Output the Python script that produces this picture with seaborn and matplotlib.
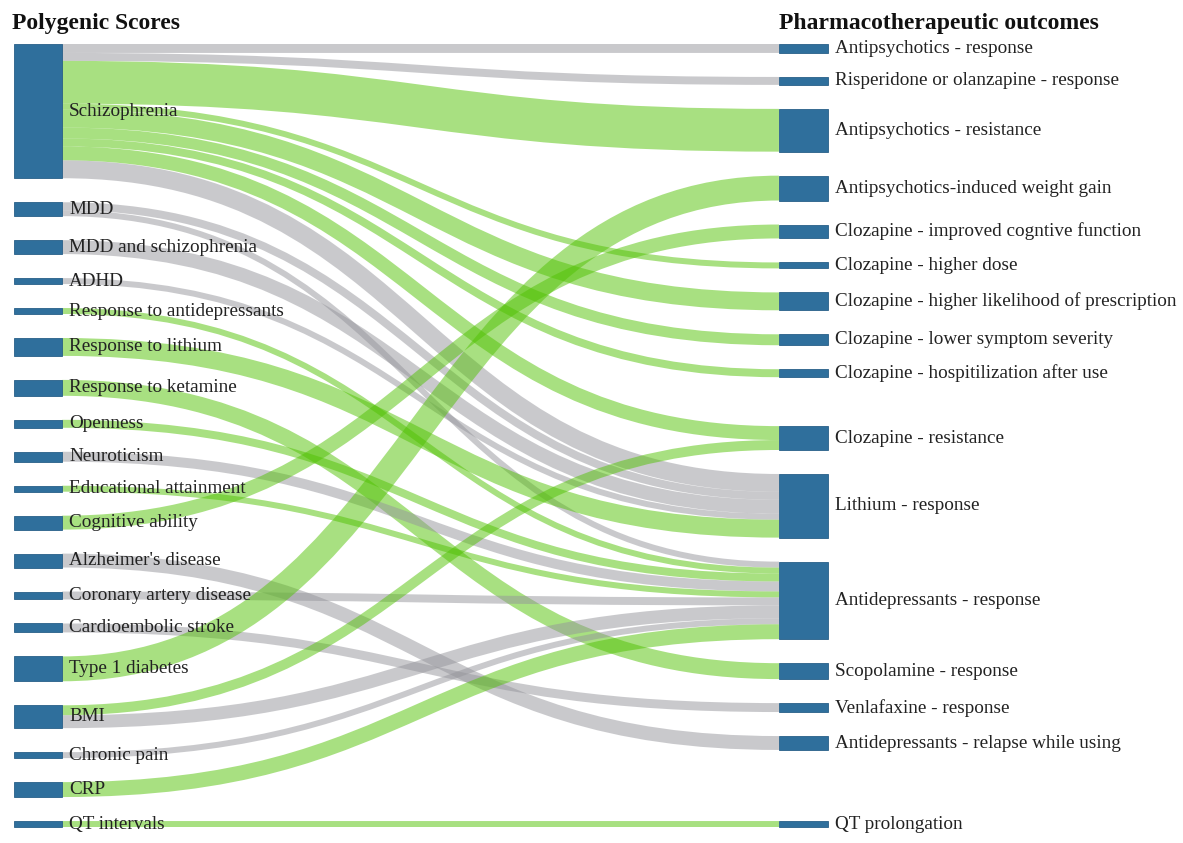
import matplotlib
matplotlib.use("Agg")
import matplotlib.pyplot as plt
from matplotlib.path import Path
from matplotlib.patches import PathPatch, Rectangle
import seaborn as sns

sns.set_theme(style="white")
plt.rcParams['font.family'] = ['Liberation Serif', 'DejaVu Serif']

# left column: polygenic scores
scores = ["Schizophrenia", "MDD", "MDD and schizophrenia", "ADHD",
          "Response to antidepressants", "Response to lithium",
          "Response to ketamine", "Openness", "Neuroticism",
          "Educational attainment", "Cognitive ability", "Alzheimer's disease",
          "Coronary artery disease", "Cardioembolic stroke", "Type 1 diabetes",
          "BMI", "Chronic pain", "CRP", "QT intervals"]

# right column: pharmacotherapeutic outcomes
outcomes = ["Antipsychotics - response", "Risperidone or olanzapine - response",
            "Antipsychotics - resistance", "Antipsychotics-induced weight gain",
            "Clozapine - improved cogntive function", "Clozapine - higher dose",
            "Clozapine - higher likelihood of prescription",
            "Clozapine - lower symptom severity",
            "Clozapine - hospitilization after use", "Clozapine - resistance",
            "Lithium - response", "Antidepressants - response",
            "Scopolamine - response", "Venlafaxine - response",
            "Antidepressants - relapse while using", "QT prolongation"]

# links: source, target, weight, significant (1 = green)
link_src = ["Schizophrenia"] * 9 + ["MDD", "MDD", "MDD and schizophrenia", "ADHD",
            "Response to antidepressants", "Response to lithium",
            "Response to ketamine", "Openness", "Neuroticism",
            "Educational attainment", "Cognitive ability", "Alzheimer's disease",
            "Coronary artery disease", "Cardioembolic stroke", "Type 1 diabetes",
            "BMI", "BMI", "Chronic pain", "CRP", "QT intervals"]
link_tgt = ["Antipsychotics - response", "Risperidone or olanzapine - response",
            "Antipsychotics - resistance", "Clozapine - higher dose",
            "Clozapine - higher likelihood of prescription",
            "Clozapine - lower symptom severity",
            "Clozapine - hospitilization after use", "Clozapine - resistance",
            "Lithium - response",
            "Lithium - response", "Antidepressants - response",
            "Lithium - response", "Lithium - response",
            "Antidepressants - response", "Lithium - response",
            "Scopolamine - response", "Antidepressants - response",
            "Antidepressants - response", "Antidepressants - response",
            "Clozapine - improved cogntive function",
            "Antidepressants - relapse while using",
            "Antidepressants - response", "Venlafaxine - response",
            "Antipsychotics-induced weight gain", "Clozapine - resistance",
            "Antidepressants - response", "Antidepressants - response",
            "Antidepressants - response", "QT prolongation"]
link_val = [9, 8, 43, 6, 18, 11, 8, 14, 18,
            8, 6, 14, 6, 6, 18, 16, 8, 10, 6, 14, 14, 8, 9, 25, 10, 13, 6, 15, 6]
link_sig = [0, 0, 1, 1, 1, 1, 1, 1, 0,
            0, 0, 0, 0, 1, 1, 1, 1, 0, 1, 1, 0, 0, 0, 1, 1, 0, 0, 1, 1]

W, H = 1183, 843
top, bottom = 44, 827
lx0, lx1 = 14, 62
rx0, rx1 = 779, 828
py = 24
node_color = "#2f6f9c"
link_colors = {1: "#52c204", 0: "#95959b"}

# sankey layout, d3-sankey style (node order kept)
names = scores + outcomes
layer = [0] * len(scores) + [1] * len(outcomes)
n_links = len(link_val)
src = [scores.index(s) for s in link_src]
tgt = [len(scores) + outcomes.index(t) for t in link_tgt]
out_links = [[k for k in range(n_links) if src[k] == i] for i in range(len(names))]
in_links = [[k for k in range(n_links) if tgt[k] == i] for i in range(len(names))]
value = [max(sum(link_val[k] for k in out_links[i]),
             sum(link_val[k] for k in in_links[i])) for i in range(len(names))]
columns = [list(range(len(scores))), list(range(len(scores), len(names)))]

ky = min((bottom - top - (len(c) - 1) * py) / sum(value[i] for i in c) for c in columns)
width = [v * ky for v in link_val]
y0 = [0.0] * len(names)
hgt = [v * ky for v in value]
for col in columns:
    y = top
    for i in col:
        y0[i] = y
        y += hgt[i] + py
    extra = (bottom - y + py) / (len(col) + 1)
    for n, i in enumerate(col):
        y0[i] += extra * (n + 1)

for i in range(len(names)):
    out_links[i].sort(key=lambda k: y0[tgt[k]])
    in_links[i].sort(key=lambda k: y0[src[k]])


def target_top(s, t):
    y = y0[s] - (len(out_links[s]) - 1) * py / 2
    for k in out_links[s]:
        if tgt[k] == t:
            break
        y += width[k] + py
    for k in in_links[t]:
        if src[k] == s:
            break
        y -= width[k]
    return y


def source_top(s, t):
    y = y0[t] - (len(in_links[t]) - 1) * py / 2
    for k in in_links[t]:
        if src[k] == s:
            break
        y += width[k] + py
    for k in out_links[s]:
        if tgt[k] == t:
            break
        y -= width[k]
    return y


def push_down(col, y, n, a):
    for m in range(n, len(col)):
        i = col[m]
        d = (y - y0[i]) * a
        if d > 1e-6:
            y0[i] += d
        y = y0[i] + hgt[i] + py


def push_up(col, y, n, a):
    for m in range(n, -1, -1):
        i = col[m]
        d = (y0[i] + hgt[i] - y) * a
        if d > 1e-6:
            y0[i] -= d
        y = y0[i] - py


def resolve(col, a):
    m = len(col) >> 1
    s = col[m]
    push_up(col, y0[s] - py, m - 1, a)
    push_down(col, y0[s] + hgt[s] + py, m + 1, a)
    push_up(col, bottom, len(col) - 1, a)
    push_down(col, top, 0, a)


iterations = 32
for it in range(iterations):
    alpha = 0.99 ** it
    beta = max(1 - alpha, (it + 1) / iterations)
    # right to left
    for s in columns[0]:
        num = sum(source_top(s, tgt[k]) * link_val[k] for k in out_links[s])
        den = sum(link_val[k] for k in out_links[s])
        y0[s] += (num / den - y0[s]) * alpha
    resolve(columns[0], beta)
    # left to right
    for t in columns[1]:
        num = sum(target_top(src[k], t) * link_val[k] for k in in_links[t])
        den = sum(link_val[k] for k in in_links[t])
        y0[t] += (num / den - y0[t]) * alpha
    resolve(columns[1], beta)

# link offsets inside nodes
sy = [0.0] * n_links
ty = [0.0] * n_links
for i in range(len(names)):
    y = y0[i]
    for k in out_links[i]:
        sy[k] = y + width[k] / 2
        y += width[k]
    y = y0[i]
    for k in in_links[i]:
        ty[k] = y + width[k] / 2
        y += width[k]

fig = plt.figure(figsize=(W / 100, H / 100), dpi=100)
ax = fig.add_axes([0, 0, 1, 1])
ax.set_xlim(0, W)
ax.set_ylim(H, 0)
ax.axis("off")

xm = (lx1 + rx0) / 2
for k in range(n_links):
    verts = [(lx1, sy[k]), (xm, sy[k]), (xm, ty[k]), (rx0, ty[k])]
    path = Path(verts, [Path.MOVETO, Path.CURVE4, Path.CURVE4, Path.CURVE4])
    ax.add_patch(PathPatch(path, facecolor="none", edgecolor=link_colors[link_sig[k]],
                           lw=width[k] * 0.72, alpha=0.5, capstyle="butt"))

for i, name in enumerate(names):
    x0, x1 = (lx0, lx1) if layer[i] == 0 else (rx0, rx1)
    ax.add_patch(Rectangle((x0, y0[i]), x1 - x0, hgt[i], facecolor=node_color,
                           edgecolor="#285f88", lw=0.6))
    ax.text(x1 + 7, y0[i] + hgt[i] / 2, name, ha="left", va="center",
            fontsize=13.8, color="#222222")

ax.text(12, 24, "Polygenic Scores", ha="left", va="center", fontsize=17,
        fontweight="bold", color="#111111")
ax.text(779, 24, "Pharmacotherapeutic outcomes", ha="left", va="center",
        fontsize=17, fontweight="bold", color="#111111")

fig.savefig("out.png", dpi=100)
